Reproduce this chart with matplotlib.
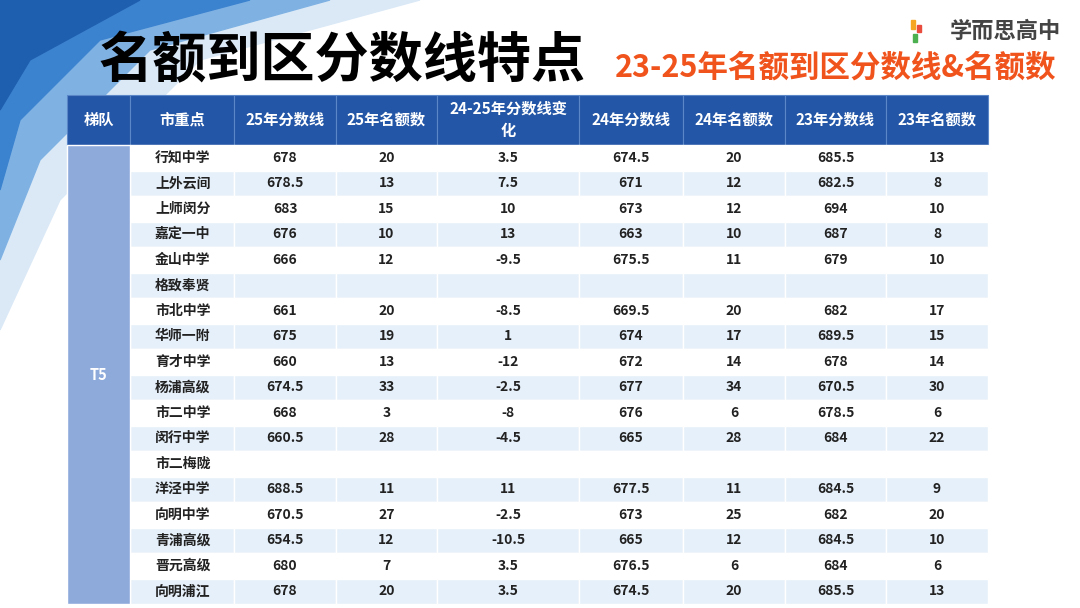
import matplotlib
matplotlib.use("Agg")
import matplotlib.pyplot as plt
from matplotlib.patches import Rectangle, Polygon
import numpy as np

plt.rcParams['font.family'] = ['Noto Sans CJK SC', 'DejaVu Sans']

headers = ["梯队", "市重点", "25年分数线", "25年名额数", "24-25年分数线变\n化", "24年分数线", "24年名额数", "23年分数线", "23年名额数"]
schools = ["行知中学", "上外云间", "上师闵分", "嘉定一中", "金山中学", "格致奉贤", "市北中学", "华师一附", "育才中学",
           "杨浦高级", "市二中学", "闵行中学", "市二梅陇", "洋泾中学", "向明中学", "青浦高级", "晋元高级", "向明浦江"]
score25 = ["678", "678.5", "683", "676", "666", "", "661", "675", "660", "674.5", "668", "660.5", "", "688.5", "670.5", "654.5", "680", "678"]
quota25 = ["20", "13", "15", "10", "12", "", "20", "19", "13", "33", "3", "28", "", "11", "27", "12", "7", "20"]
change = ["3.5", "7.5", "10", "13", "-9.5", "", "-8.5", "1", "-12", "-2.5", "-8", "-4.5", "", "11", "-2.5", "-10.5", "3.5", "3.5"]
score24 = ["674.5", "671", "673", "663", "675.5", "", "669.5", "674", "672", "677", "676", "665", "", "677.5", "673", "665", "676.5", "674.5"]
quota24 = ["20", "12", "12", "10", "11", "", "20", "17", "14", "34", "6", "28", "", "11", "25", "12", "6", "20"]
score23 = ["685.5", "682.5", "694", "687", "679", "", "682", "689.5", "678", "670.5", "678.5", "684", "", "684.5", "682", "684.5", "684", "685.5"]
quota23 = ["13", "8", "10", "8", "10", "", "17", "15", "14", "30", "6", "22", "", "9", "20", "10", "6", "13"]
tier = "T5"

W, H = 1080, 608
fig = plt.figure(figsize=(10.8, 6.08), dpi=100)
ax = fig.add_axes([0, 0, 1, 1])
ax.set_xlim(0, W); ax.set_ylim(H, 0); ax.axis('off')

# background swooshes
ax.add_patch(Polygon([(0, 0), (420, 0), (200, 60), (60, 200), (0, 330)], color='#dbe9f7', zorder=0))
ax.add_patch(Polygon([(0, 0), (330, 0), (150, 50), (40, 160), (0, 260)], color='#7fb2e3', zorder=0))
ax.add_patch(Polygon([(0, 0), (250, 0), (100, 40), (20, 120), (0, 190)], color='#3b82cf', zorder=0))
ax.add_patch(Polygon([(0, 0), (140, 0), (30, 60), (0, 110)], color='#1f5fb0', zorder=0))

ax.text(342, 62, "名额到区分数线特点", fontsize=39, fontweight='heavy', ha='center', va='center', color='black', zorder=3)
ax.text(836, 68, "23-25年名额到区分数线&名额数", fontsize=22, fontweight='bold', ha='center', va='center', color='#f0531c', zorder=3)
ax.text(1005, 31, "学而思高中", fontsize=16, fontweight='bold', ha='center', va='center', color='#444444', zorder=3)
ax.add_patch(Rectangle((911, 20), 4, 9, color='#f5a623', zorder=3))
ax.add_patch(Rectangle((917, 25), 4, 7, color='#e94b3c', zorder=3))
ax.add_patch(Rectangle((913, 34), 4, 8, color='#4caf50', zorder=3))

xs = [67, 130, 234, 336, 437, 579, 683, 785, 886, 988]
hy0, hy1 = 95, 145
rh = (604 - hy1) / len(schools)
hdr_col = '#2356a6'
for i, h in enumerate(headers):
    ax.add_patch(Rectangle((xs[i], hy0), xs[i+1]-xs[i], hy1-hy0, facecolor=hdr_col, edgecolor='#5b86c8', lw=0.8, zorder=2))
    ax.text((xs[i]+xs[i+1])/2, (hy0+hy1)/2, h, color='white', fontsize=11, fontweight='bold',
            ha='center', va='center', linespacing=1.5, zorder=3)

cols = [schools, score25, quota25, change, score24, quota24, score23, quota23]
for r in range(len(schools)):
    y = hy1 + r*rh
    bg = 'white' if r % 2 == 0 else '#e6f0fa'
    for c in range(1, 9):
        ax.add_patch(Rectangle((xs[c], y), xs[c+1]-xs[c], rh, facecolor=bg, edgecolor='white', lw=1, zorder=2))
        txt = cols[c-1][r]
        if c == 1:
            ax.text(155, y+rh/2, txt, fontsize=10, fontweight='bold', ha='left', va='center', color='#222222', zorder=3)
        else:
            ax.text((xs[c]+xs[c+1])/2, y+rh/2, txt, fontsize=10, fontweight='bold', ha='center', va='center', color='#222222', zorder=3)
ax.add_patch(Rectangle((xs[0], hy1), xs[1]-xs[0], 604-hy1, facecolor='#8eaadb', edgecolor='white', lw=1, zorder=2))
ax.text((xs[0]+xs[1])/2, (hy1+604)/2, tier, fontsize=10.5, fontweight='bold', ha='center', va='center', color='white', zorder=3)

fig.savefig("out.png", dpi=100)
